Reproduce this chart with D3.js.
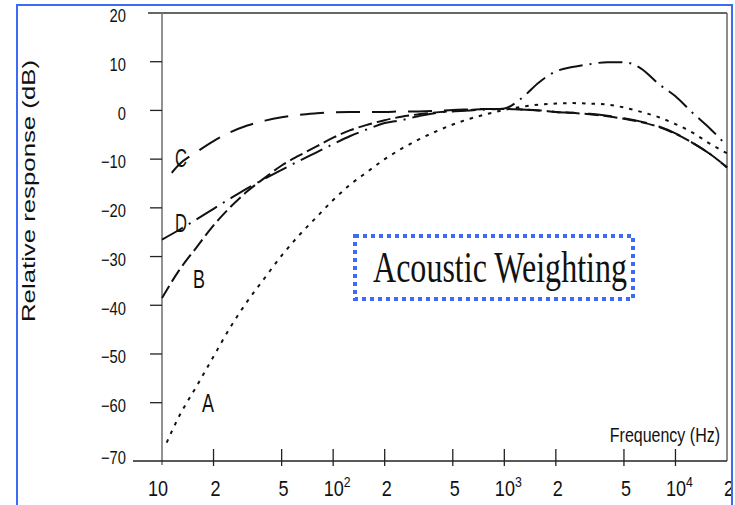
<!DOCTYPE html>
<html>
<head>
<meta charset="utf-8">
<script src="https://cdn.jsdelivr.net/npm/d3@7/dist/d3.min.js"></script>
<style>
  html, body { margin: 0; padding: 0; background: #fff; }
  svg { display: block; }
</style>
</head>
<body>
<svg id="chart" width="735" height="505"></svg>
<script>
// Frequency grids (Hz) for each weighting curve
const freqStd = [10, 12.5, 16, 20, 25, 31.5, 40, 50, 63, 80, 100, 125, 160, 200, 250, 315, 400, 500, 630, 800,
                 1000, 1250, 1600, 2000, 2500, 3150, 4000, 5000, 6300, 8000, 10000, 12500, 16000, 20000];
const freqA = [10.65].concat(freqStd.slice(1));
const freqC = [11.4].concat(freqStd.slice(1));

// Relative response (dB)
const dbA = [-68.2, -63.0, -56.5, -50.5, -44.6, -39.2, -34.3, -29.8, -25.7, -21.9, -18.4, -15.3, -12.5, -10.0,
             -7.9, -6.0, -4.3, -2.9, -1.7, -0.7, 0.1, 0.7, 1.2, 1.4, 1.5, 1.4, 1.2, 0.6, -0.3, -1.4, -2.8, -4.5, -6.9, -8.8];
const dbB = [-38.5, -33.0, -28.0, -23.6, -19.9, -16.6, -13.8, -11.3, -9.3, -7.4, -5.6, -4.1, -2.9, -2.0,
             -1.3, -0.8, -0.4, -0.1, 0.1, 0.3, 0.3, 0.2, 0.0, -0.3, -0.5, -0.8, -1.2, -1.7, -2.4, -3.4, -4.8, -6.6, -9.0, -11.7];
const dbC = [-12.8, -11.2, -8.5, -6.3, -4.5, -3.1, -2.1, -1.4, -0.9, -0.6, -0.4, -0.3, -0.3, -0.3,
             -0.2, -0.2, -0.1, 0.1, 0.2, 0.3, 0.3, 0.2, 0.0, -0.3, -0.5, -0.7, -1.1, -1.6, -2.3, -3.3, -4.7, -6.6, -9.0, -11.7];
const dbD = [-26.5, -24.6, -22.3, -20.2, -18.1, -16.0, -14.0, -12.2, -10.4, -8.6, -6.9, -5.3, -3.8, -2.6,
             -2.0, -1.2, -0.5, -0.2, 0.0, 0.2, 0.4, 2.4, 5.8, 8.0, 8.9, 9.5, 9.9, 9.9, 8.6, 5.4, 2.9, -0.4, -3.8, -7.3];

// Curve names and where their letters sit (frequency, dB)
const curveNames = ["A", "B", "C", "D"];
const labelFreq = [17.1, 15.2, 11.9, 11.9];
const labelDb = [-61.9, -36.5, -11.6, -25.0];

// Axis ticks
const yTicks = [20, 10, 0, -10, -20, -30, -40, -50, -60, -70];
const xTicks = [10, 20, 50, 100, 200, 500, 1000, 2000, 5000, 10000, 20000];
const xTickMantissa = ["10", "2", "5", "10", "2", "5", "10", "2", "5", "10", "2"];
const xTickExponent = ["", "", "", "2", "", "", "3", "", "", "4", ""];

const title = "Acoustic Weighting";
const xTitle = "Frequency (Hz)";
const yTitle = "Relative response (dB)";

const sans = "'Liberation Sans', Arial, Helvetica, sans-serif";
const serif = "'Liberation Serif', 'Times New Roman', serif";
const frameBlue = "#3d6bf5";
const condense = 0.82;   // horizontal squeeze for the narrow sans lettering

const svg = d3.select("#chart");
svg.append("rect").attr("width", 735).attr("height", 505).attr("fill", "#fff");

const plotLeft = 162, plotRight = 727, plotTop = 13, plotBase = 461;
const x = d3.scaleLog().domain([10, 20000]).range([plotLeft, plotRight]);
const y = d3.scaleLinear().domain([-70, 20]).range([451.4, plotTop]);

// Plot frame
svg.append("line").attr("x1", 148).attr("x2", plotRight).attr("y1", plotTop).attr("y2", plotTop)
  .attr("stroke", "#333").attr("stroke-width", 1.3);
svg.append("line").attr("x1", plotRight).attr("x2", plotRight).attr("y1", plotTop).attr("y2", plotBase)
  .attr("stroke", "#666").attr("stroke-width", 1.5);
svg.append("line").attr("x1", plotLeft).attr("x2", plotLeft).attr("y1", plotTop).attr("y2", plotBase + 4)
  .attr("stroke", "#777").attr("stroke-width", 1.6);
svg.append("line").attr("x1", 133).attr("x2", plotRight).attr("y1", plotBase).attr("y2", plotBase)
  .attr("stroke", "#222").attr("stroke-width", 1.3);

// Y axis ticks and labels
const yAxis = svg.append("g");
yAxis.selectAll("line").data(yTicks.filter(d => d > -70 && d < 20)).join("line")
  .attr("x1", 150).attr("x2", plotLeft).attr("y1", d => y(d)).attr("y2", d => y(d))
  .attr("stroke", "#222").attr("stroke-width", 1.3);
yAxis.selectAll("text").data(yTicks).join("text")
  .attr("transform", d => `translate(126,${y(d) + (d === -70 ? 6 : 3)}) scale(${condense},1)`)
  .attr("dy", "0.35em")
  .attr("text-anchor", "end")
  .attr("font-family", sans).attr("font-size", 18).attr("fill", "#111")
  .text(d => d < 0 ? "\u2212" + Math.abs(d) : String(d));

// X axis ticks and labels
const xAxis = svg.append("g");
xAxis.selectAll("line").data(xTicks.slice(1, -1)).join("line")
  .attr("x1", d => x(d)).attr("x2", d => x(d)).attr("y1", plotBase - 12).attr("y2", plotBase + 5)
  .attr("stroke", "#222").attr("stroke-width", 1.3);
xAxis.selectAll("text").data(xTicks).join("text")
  .attr("transform", (d, i) =>
    `translate(${x(d) + (i === 0 ? -4 : xTickExponent[i] ? 4 : 2)},496) scale(${condense},1)`)
  .attr("text-anchor", "middle")
  .attr("font-family", sans).attr("font-size", 22).attr("fill", "#111")
  .each(function (d, i) {
    const t = d3.select(this);
    t.append("tspan").text(xTickMantissa[i]);
    if (xTickExponent[i]) {
      t.append("tspan").attr("dy", -9).attr("font-size", 15).text(xTickExponent[i]);
    }
  });

// Axis titles
svg.append("text")
  .attr("transform", `translate(720,442) scale(${condense},1)`)
  .attr("text-anchor", "end")
  .attr("font-family", sans).attr("font-size", 19.5).attr("fill", "#111")
  .text(xTitle);
svg.append("text")
  .attr("transform", "translate(35,191) rotate(-90)")
  .attr("text-anchor", "middle")
  .attr("font-family", sans).attr("font-size", 18).attr("fill", "#111")
  .attr("textLength", 262).attr("lengthAdjust", "spacingAndGlyphs")
  .text(yTitle);

// Weighting curves
const series = [
  { f: freqA, v: dbA, dash: "3.5 6" },
  { f: freqStd, v: dbB, dash: "14 5" },
  { f: freqC, v: dbC, dash: "24 12" },
  { f: freqStd, v: dbD, dash: "24 7 2 7" }
];
const line = d3.line().x(p => x(p[0])).y(p => y(p[1])).curve(d3.curveMonotoneX);
svg.append("g").selectAll("path").data(series).join("path")
  .attr("d", s => line(s.f.map((f, i) => [f, s.v[i]])))
  .attr("fill", "none")
  .attr("stroke", "#111")
  .attr("stroke-width", 2)
  .attr("stroke-dasharray", s => s.dash);

// Curve letters
svg.append("g").selectAll("text").data(curveNames).join("text")
  .attr("x", (d, i) => x(labelFreq[i]))
  .attr("y", (d, i) => y(labelDb[i]))
  .attr("font-family", sans).attr("font-size", 25).attr("fill", "#111")
  .attr("textLength", 12).attr("lengthAdjust", "spacingAndGlyphs")
  .text(d => d);

// Title box
svg.append("rect")
  .attr("x", 355).attr("y", 236).attr("width", 278).attr("height", 63)
  .attr("fill", "none").attr("stroke", frameBlue).attr("stroke-width", 4)
  .attr("stroke-dasharray", "4 4");
svg.append("text")
  .attr("x", 373).attr("y", 282)
  .attr("font-family", serif).attr("font-size", 45).attr("fill", "#111")
  .attr("textLength", 254).attr("lengthAdjust", "spacingAndGlyphs")
  .text(title);

// Outer blue frame
svg.append("rect").attr("x", 733).attr("y", 0).attr("width", 2).attr("height", 505).attr("fill", "#fff");
svg.append("line").attr("x1", 17).attr("x2", 17).attr("y1", 4).attr("y2", 505)
  .attr("stroke", frameBlue).attr("stroke-width", 2);
svg.append("line").attr("x1", 16).attr("x2", 733).attr("y1", 5).attr("y2", 5)
  .attr("stroke", frameBlue).attr("stroke-width", 2);
svg.append("line").attr("x1", 732).attr("x2", 732).attr("y1", 4).attr("y2", 505)
  .attr("stroke", frameBlue).attr("stroke-width", 2);
</script>
</body>
</html>
